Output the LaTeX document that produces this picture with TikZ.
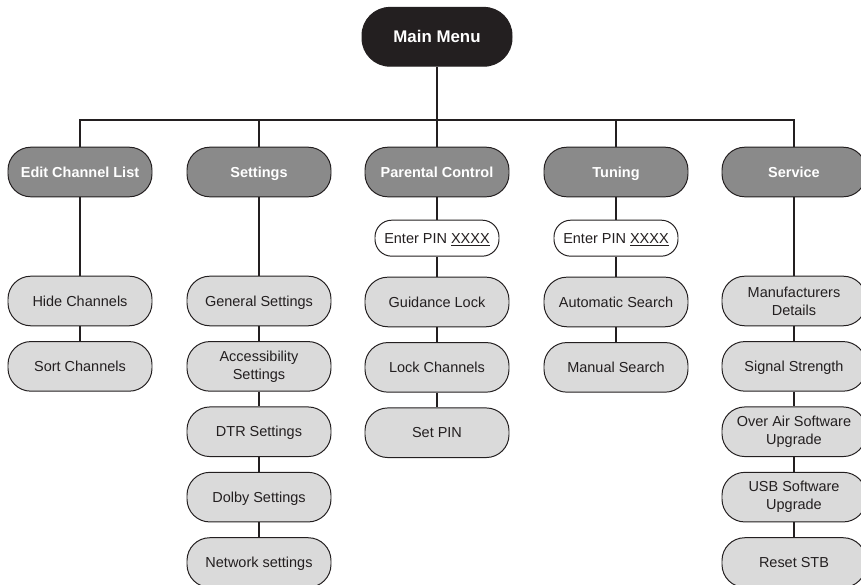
\documentclass[tikz,border=0pt]{standalone}
\usepackage{fontspec}
\setmainfont{Liberation Sans}
\definecolor{menublack}{HTML}{231F20}
\definecolor{headgrey}{HTML}{8A8A8A}
\definecolor{itemgrey}{HTML}{DADADA}
\usepackage{tikz}
\usetikzlibrary{positioning}

\begin{document}
\begin{tikzpicture}[
    menu/.style={rectangle,rounded corners=0.57cm,
                 draw=menublack,line width=0.7pt,
                 minimum width=3.6cm,minimum height=1.24cm,align=center,
                 inner sep=1pt,font=\fontsize{10.3}{12.8}\selectfont},
    oneline/.style={text height=8pt,text depth=0.6pt},
    head/.style={menu,oneline,fill=headgrey,text=white,
                 font=\fontsize{10.3}{12.8}\selectfont\bfseries},
    item/.style={menu,oneline,fill=itemgrey,text=menublack},
    twoline/.style={menu,fill=itemgrey,text=menublack},
    pinbox/.style={menu,oneline,fill=white,text=menublack,
                 minimum width=3.1cm,minimum height=0.9cm,rounded corners=0.42cm},
    link/.style={draw=menublack,line width=1pt}]
        \useasboundingbox (0,0) rectangle (21.525,-14.6);
        \node[menu,oneline,fill=menublack,text=white,
              minimum width=3.75cm,minimum height=1.47cm,rounded corners=0.7cm,
              text height=9.2pt,text depth=0.6pt,
              font=\fontsize{12}{14}\selectfont\bfseries]
              (main) at (10.925,-0.92) {Main Menu};
        \coordinate (bus) at (10.925,-3.0);
        % top row
        \node[head] (edit)   at (2.0,-4.3)    {Edit Channel List};
        \node[head] (sett)   at (6.475,-4.3)  {Settings};
        \node[head] (parent) at (10.925,-4.3) {Parental Control};
        \node[head] (tune)   at (15.4,-4.3)   {Tuning};
        \node[head] (serv)   at (19.85,-4.3)  {Service};
        % edit channel list
        \node[item,below=1.96cm of edit] (hide) {Hide Channels};
        \node[item,below=0.37cm of hide] (sort) {Sort Channels};
        % settings
        \node[item,below=1.96cm of sett] (gen) {General Settings};
        \node[twoline,below=0.37cm of gen]  (acc) {Accessibility\\Settings};
        \node[item,below=0.37cm of acc]  (dtr) {DTR Settings};
        \node[item,below=0.37cm of dtr]  (dolby) {Dolby Settings};
        \node[item,below=0.37cm of dolby] (net) {Network settings};
        % parental control
        \node[pinbox,below=0.56cm of parent] (pinA) {Enter PIN \underline{XXXX}};
        \node[item,below=0.5cm of pinA]   (guide) {Guidance Lock};
        \node[item,below=0.37cm of guide] (lock) {Lock Channels};
        \node[item,below=0.37cm of lock]  (setpin) {Set PIN};
        % tuning
        \node[pinbox,below=0.56cm of tune] (pinB) {Enter PIN \underline{XXXX}};
        \node[item,below=0.5cm of pinB]   (auto) {Automatic Search};
        \node[item,below=0.37cm of auto] (manual) {Manual Search};
        % service
        \node[twoline,below=1.96cm of serv] (manu) {Manufacturers\\Details};
        \node[item,below=0.37cm of manu] (signal) {Signal Strength};
        \node[twoline,below=0.37cm of signal] (ota) {Over Air Software\\Upgrade};
        \node[twoline,below=0.37cm of ota] (usb) {USB Software\\Upgrade};
        \node[item,below=0.37cm of usb] (reset) {Reset STB};
        % connectors
        \draw[link] (main) -- (bus);
        \draw[link] (edit) |- (bus) -| (serv);
        \draw[link] (sett) -- (sett |- bus);
        \draw[link] (parent) -- (parent |- bus);
        \draw[link] (tune) -- (tune |- bus);
        \draw[link] (edit) -- (hide) -- (sort);
        \draw[link] (sett) -- (gen) -- (acc) -- (dtr) -- (dolby) -- (net);
        \draw[link] (parent) -- (pinA) -- (guide) -- (lock) -- (setpin);
        \draw[link] (tune) -- (pinB) -- (auto) -- (manual);
        \draw[link] (serv) -- (manu) -- (signal) -- (ota) -- (usb) -- (reset);
      \end{tikzpicture}
\end{document}
